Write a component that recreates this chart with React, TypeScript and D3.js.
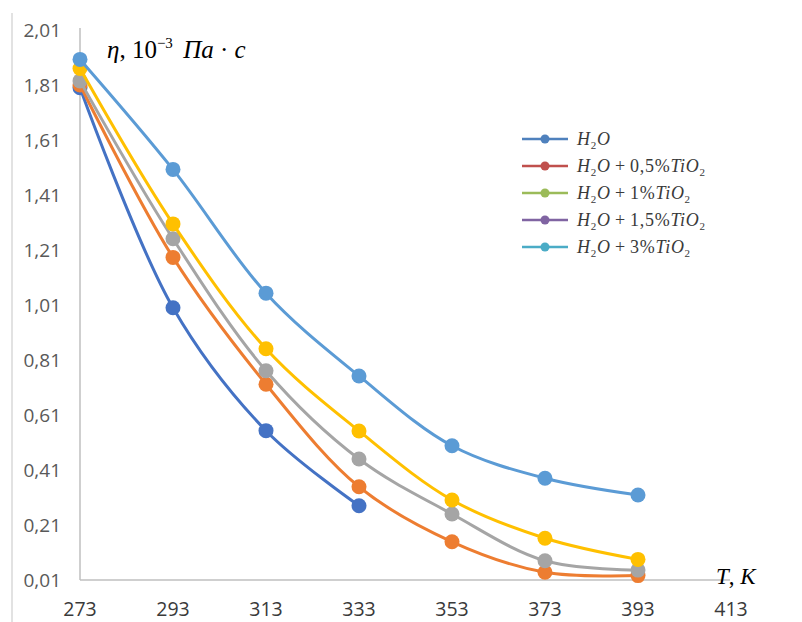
import React from "react";
import * as d3 from "d3";

// Temperature, K
const temperatures = [273, 293, 313, 333, 353, 373, 393];

// Dynamic viscosity, 10^-3 Pa·s
const water = [1.80, 1.00, 0.553, 0.28];
const tio2_05 = [1.81, 1.183, 0.722, 0.349, 0.149, 0.038, 0.026];
const tio2_15 = [1.825, 1.251, 0.771, 0.45, 0.25, 0.08, 0.046];
const tio2_1 = [1.87, 1.305, 0.851, 0.552, 0.301, 0.162, 0.085];
const tio2_3 = [1.903, 1.503, 1.053, 0.752, 0.498, 0.38, 0.319];

const xTicks = [273, 293, 313, 333, 353, 373, 393, 413];
const yTicks = [0.01, 0.21, 0.41, 0.61, 0.81, 1.01, 1.21, 1.41, 1.61, 1.81, 2.01];

const seriesValues = [water, tio2_05, tio2_15, tio2_1, tio2_3];
const seriesColors = ["#4472C4", "#ED7D31", "#A5A5A5", "#FFC000", "#5B9BD5"];

const legendConcentrations = ["", "0,5", "1", "1,5", "3"];
const legendColors = ["#4F81BD", "#C0504D", "#9BBB59", "#8064A2", "#4BACC6"];

const W = 802;
const H = 622;
const serif = "'Liberation Serif', 'Times New Roman', serif";
const sans = "'Open Sans', 'Noto Sans', sans-serif";

export default function App() {
  const x = d3.scaleLinear().domain([273, 413]).range([80, 731]);
  const y = d3.scaleLinear().domain([0.01, 2.01]).range([580, 30]);

  const line = d3
    .line<[number, number]>()
    .x((d) => x(d[0]))
    .y((d) => y(d[1]))
    .curve(d3.curveCatmullRom.alpha(0.5));

  const fmt = (v: number) => v.toFixed(2).replace(".", ",");

  return (
    <svg
      width={W}
      height={H}
      style={{ position: "absolute", left: 0, top: 0, background: "#fff" }}
    >
      <rect width={W} height={H} fill="#fff" />
      {/* chart frame edge */}
      <line x1={12} x2={12} y1={13} y2={H} stroke="#D9D9D9" strokeWidth={1.5} />

      {/* axes */}
      <line x1={x(273)} x2={x(273)} y1={28} y2={y(0.01)} stroke="#BFBFBF" strokeWidth={1.5} />
      <line x1={x(273)} x2={730} y1={y(0.01)} y2={y(0.01)} stroke="#BFBFBF" strokeWidth={1.5} />

      {yTicks.map((t) => (
        <text
          key={t}
          x={61}
          y={y(t)}
          dy="0.35em"
          textAnchor="end"
          fontFamily={sans}
          fontSize={19}
          fill="#595959"
        >
          {fmt(t)}
        </text>
      ))}
      {xTicks.map((t) => (
        <text
          key={t}
          x={x(t)}
          y={609}
          dy="0.35em"
          textAnchor="middle"
          fontFamily={sans}
          fontSize={19.5}
          fill="#3a3a3a"
        >
          {t}
        </text>
      ))}

      {/* series */}
      {seriesValues.map((vals, i) => {
        const pts = vals.map((v, j) => [temperatures[j], v] as [number, number]);
        return (
          <g key={i}>
            <path d={line(pts) || ""} fill="none" stroke={seriesColors[i]} strokeWidth={3} />
            {pts.map((p, j) => (
              <circle key={j} cx={x(p[0])} cy={y(p[1])} r={7.5} fill={seriesColors[i]} />
            ))}
          </g>
        );
      })}

      {/* axis titles */}
      <text x={107} y={58} fontFamily={serif} fontSize={25} fill="#000">
        <tspan fontStyle="italic">η</tspan>
        <tspan>, 10</tspan>
        <tspan fontSize={15} dy={-10}>−3</tspan>
        <tspan dy={10} fontStyle="italic" dx={4}> Па</tspan>
        <tspan> · </tspan>
        <tspan fontStyle="italic">с</tspan>
      </text>
      <text x={716} y={584} fontFamily={serif} fontSize={23} fill="#000">
        <tspan fontStyle="italic">T</tspan>
        <tspan>, </tspan>
        <tspan fontStyle="italic">K</tspan>
      </text>

      {/* legend */}
      {legendConcentrations.map((c, i) => {
        const ly = 139 + i * 27;
        return (
          <g key={i}>
            <line x1={522} x2={568} y1={ly} y2={ly} stroke={legendColors[i]} strokeWidth={2.5} />
            <circle cx={545} cy={ly} r={4.5} fill={legendColors[i]} />
            <text x={577} y={ly + 6} fontFamily={serif} fontSize={18} fill="#3a3a3a" letterSpacing={0.7}>
              <tspan fontStyle="italic">H</tspan>
              <tspan fontSize={11} dy={4}>2</tspan>
              <tspan fontStyle="italic" dy={-4}>O</tspan>
              {c !== "" && (
                <>
                  <tspan>{"\u2009+\u2009"}{c}%</tspan>
                  <tspan fontStyle="italic">TiO</tspan>
                  <tspan fontSize={11} dy={4}>2</tspan>
                </>
              )}
            </text>
          </g>
        );
      })}
    </svg>
  );
}
